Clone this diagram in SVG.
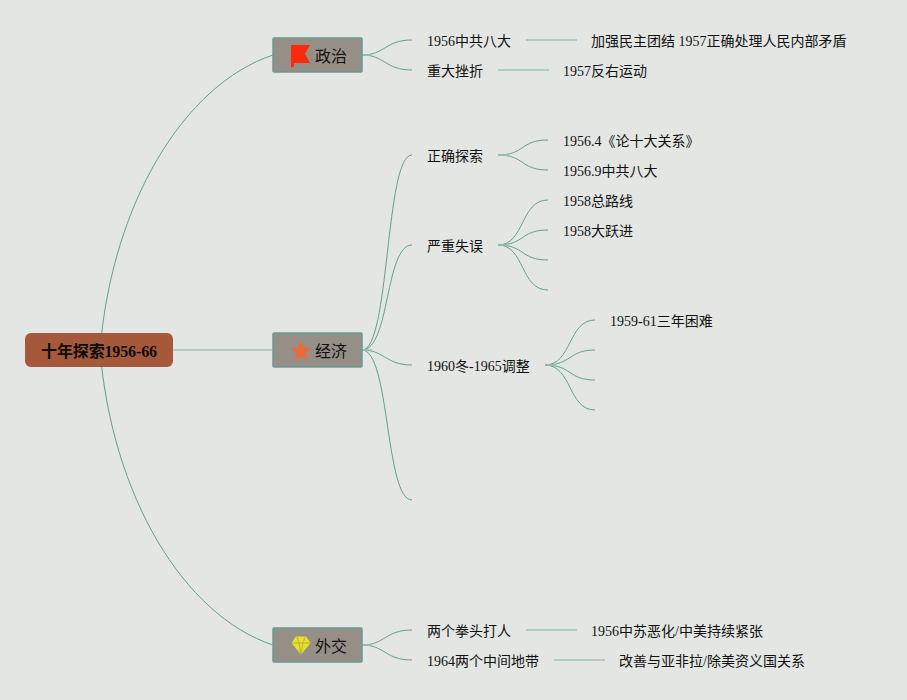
<svg xmlns="http://www.w3.org/2000/svg" width="907" height="700" viewBox="0 0 907 700">
<style>
text{font-family:"Liberation Serif","Noto Sans CJK SC",serif;font-size:14px;fill:#111}
.t2{font-size:16px}
.root{font-size:16px;font-weight:bold;fill:#0c0c0c}
.c{fill:none;stroke:#62a08e;stroke-width:1}
.s{fill:none;stroke:#9cc4b6;stroke-width:1.5}
.box{fill:#968f88;stroke:#6a9c90;stroke-width:1.5}
</style>
<rect width="907" height="700" fill="#e3e6e3"/>
<g id="connectors">
<path class="c" d="M100 350C112 205 183 85 273 55"/>
<path class="c" d="M100 350C112 495 183 615 273 645"/>
<path class="s" d="M173 350H273"/>
<path class="c" d="M362 55C385 55 385 40 412 40"/>
<path class="c" d="M362 55C385 55 385 70 412 70"/>
<path class="c" d="M362 350C390 350 385 155 412 155"/>
<path class="c" d="M362 350C390 350 385 245 412 245"/>
<path class="c" d="M362 350C385 350 385 365 412 365"/>
<path class="c" d="M362 350C390 350 385 500 412 500"/>
<path class="c" d="M362 645C385 645 385 630 412 630"/>
<path class="c" d="M362 645C385 645 385 660 412 660"/>
<path class="s" d="M526 40H577"/>
<path class="s" d="M498 70H549"/>
<path class="s" d="M526 630H577"/>
<path class="s" d="M554 660H605"/>
<path class="c" d="M498 155C525 155 520 140 548 140"/>
<path class="c" d="M498 155C525 155 520 170 548 170"/>
<path class="c" d="M498 245C525 245 520 200 548 200"/>
<path class="c" d="M498 245C525 245 520 230 548 230"/>
<path class="c" d="M498 245C525 245 520 260 548 260"/>
<path class="c" d="M498 245C525 245 520 290 548 290"/>
<path class="c" d="M545 365C572 365 568 320 595 320"/>
<path class="c" d="M545 365C572 365 568 350 595 350"/>
<path class="c" d="M545 365C572 365 568 380 595 380"/>
<path class="c" d="M545 365C572 365 568 410 595 410"/>
<path class="s" d="M362 55H372M362 350H372M362 645H372M498 155H508M498 245H508M545 365H555"/>
</g>
<g id="root"><rect x="25" y="333" width="148" height="34" rx="6" fill="#a6583a"/><text class="root" x="99" y="357" text-anchor="middle" textLength="116">十年探索1956-66</text></g>
<g id="politics"><rect class="box" x="273" y="38" width="89" height="34" rx="1"/><path d="M291 45H310L305 54L310 63H294V66L291 68Z" fill="#fb2a0c"/><text class="t2" x="315" y="62">政治</text></g>
<g id="economy"><rect class="box" x="273" y="333" width="89" height="34" rx="1"/><path d="M301 341L303.900 347.500L311 348.300L305.700 353L307.200 360L301 356.400L294.800 360L296.300 353L291 348.300L298.100 347.500Z" fill="#ec6a3a"/><text class="t2" x="315" y="357">经济</text></g>
<g id="diplomacy"><rect class="box" x="273" y="628" width="89" height="34" rx="1"/><path d="M296 637H306L310 643L301 654L292 643Z" fill="#e8de2c" stroke="#e8de2c" stroke-linejoin="round"/><path d="M292 643H310M297 637L299 643L301 654L303 643L305 637" fill="none" stroke="#a8a23c" stroke-width=".7"/><text class="t2" x="315" y="652">外交</text></g>
<g id="n1"><text x="427" y="46">1956中共八大</text></g>
<g id="n2"><text x="427" y="76">重大挫折</text></g>
<g id="n3"><text x="427" y="161">正确探索</text></g>
<g id="n4"><text x="427" y="251">严重失误</text></g>
<g id="n5"><text x="427" y="371">1960冬-1965调整</text></g>
<g id="n6"><text x="427" y="636">两个拳头打人</text></g>
<g id="n7"><text x="427" y="666">1964两个中间地带</text></g>
<g id="n8"><text x="591" y="46">加强民主团结 1957正确处理人民内部矛盾</text></g>
<g id="n9"><text x="563" y="76">1957反右运动</text></g>
<g id="n10"><text x="563" y="146">1956.4《论十大关系》</text></g>
<g id="n11"><text x="563" y="176">1956.9中共八大</text></g>
<g id="n12"><text x="563" y="206">1958总路线</text></g>
<g id="n13"><text x="563" y="236">1958大跃进</text></g>
<g id="n14"><text x="610" y="326">1959-61三年困难</text></g>
<g id="n15"><text x="591" y="636">1956中苏恶化/中美持续紧张</text></g>
<g id="n16"><text x="619" y="666">改善与亚非拉/除美资义国关系</text></g>
</svg>
